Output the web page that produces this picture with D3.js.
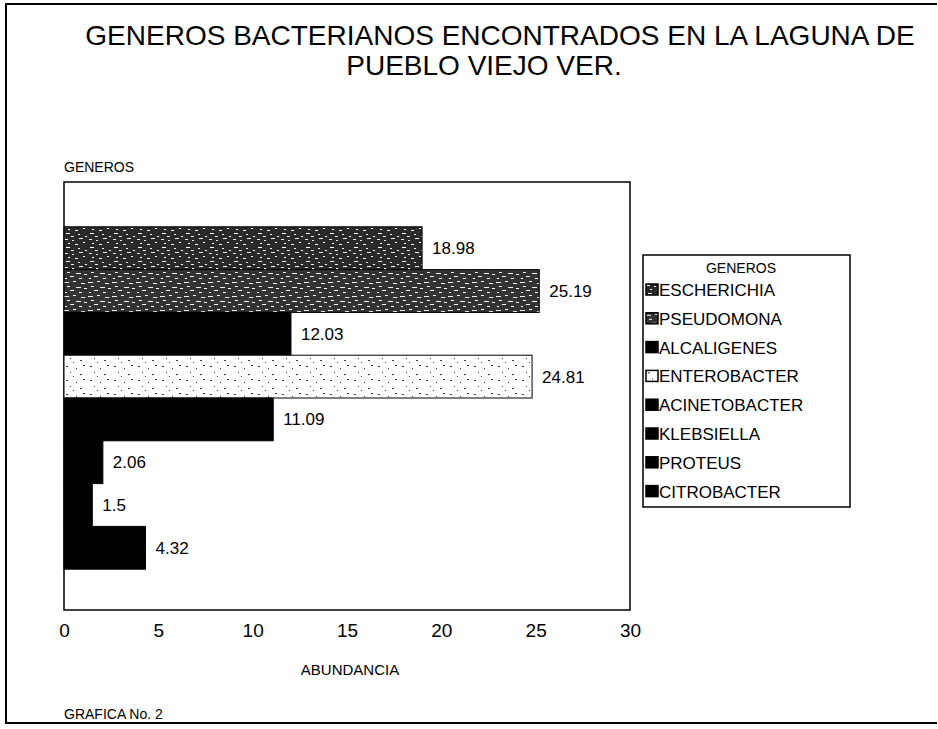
<!DOCTYPE html>
<html>
<head>
<meta charset="utf-8">
<script src="https://cdn.jsdelivr.net/npm/d3@7"></script>
<style>
  body { margin: 0; background: #fff; }
  text { font-family: "Liberation Sans", Arial, sans-serif; fill: #000; }
</style>
</head>
<body>
<div id="chart-area"></div>
<script>
// data
var generos = ["ESCHERICHIA", "PSEUDOMONA", "ALCALIGENES", "ENTEROBACTER",
               "ACINETOBACTER", "KLEBSIELLA", "PROTEUS", "CITROBACTER"];
var abundancia = [18.98, 25.19, 12.03, 24.81, 11.09, 2.06, 1.5, 4.32];
var etiquetas = ["18.98", "25.19", "12.03", "24.81", "11.09", "2.06", "1.5", "4.32"];
var xTicks = [0, 5, 10, 15, 20, 25, 30];
var fills = ["url(#speckDark)", "url(#speckDark2)", "#000", "url(#speckLight)",
             "#000", "#000", "#000", "#000"];

var width = 938, height = 729;
var margin = {top: 182, left: 64, right: 308, bottom: 119};
var plotW = width - margin.left - margin.right;
var plotH = height - margin.top - margin.bottom;

var svg = d3.select("#chart-area").append("svg")
    .attr("width", width)
    .attr("height", height);

// textures for the scanned-looking bars
var defs = svg.append("defs");
function speck(id, bg, fg, pts) {
    var p = defs.append("pattern")
        .attr("id", id)
        .attr("patternUnits", "userSpaceOnUse")
        .attr("width", 24).attr("height", 14);
    p.append("rect").attr("width", 24).attr("height", 14).attr("fill", bg);
    pts.forEach(function(d) {
        p.append("rect").attr("x", d[0]).attr("y", d[1])
            .attr("width", d[2]).attr("height", 1).attr("fill", fg);
    });
}
speck("speckDark", "#2a2a2a", "#fff",
    [[1,1,3],[8,2,2],[15,0,4],[4,5,2],[11,6,3],[19,4,2],[2,9,4],[14,10,2],[21,12,2],[7,12,3]]);
speck("speckDark2", "#333", "#fff",
    [[0,2,5],[9,1,3],[17,3,4],[3,6,3],[12,7,5],[20,8,3],[6,10,4],[15,12,3],[1,12,2]]);
speck("speckLight", "#fff", "#333",
    [[2,2,2],[12,4,1],[19,1,2],[6,8,1],[16,10,2],[9,12,1]]);

// outer frame
svg.append("path")
    .attr("d", "M937,4 H6 V723 H937")
    .attr("fill", "none").attr("stroke", "#000").attr("stroke-width", 2);

// title
svg.append("text").attr("x", 500).attr("y", 45)
    .attr("text-anchor", "middle").attr("font-size", "28px")
    .text("GENEROS BACTERIANOS ENCONTRADOS EN LA LAGUNA DE");
svg.append("text").attr("x", 484).attr("y", 75)
    .attr("text-anchor", "middle").attr("font-size", "28px")
    .text("PUEBLO VIEJO VER.");

var g = svg.append("g")
    .attr("transform", "translate(" + margin.left + "," + margin.top + ")");

var x = d3.scaleLinear().domain([0, 30]).range([0, plotW]);
var y = d3.scaleBand().domain(generos).range([0, plotH])
    .paddingInner(0).paddingOuter(1);

g.append("rect")
    .attr("width", plotW).attr("height", plotH)
    .attr("fill", "none").attr("stroke", "#000").attr("stroke-width", 1.5);

g.selectAll(".bar").data(generos).enter().append("rect")
    .attr("class", "bar")
    .attr("x", 0)
    .attr("y", function(d) { return y(d) + 2; })
    .attr("width", function(d, i) { return x(abundancia[i]); })
    .attr("height", y.bandwidth())
    .attr("fill", function(d, i) { return fills[i]; })
    .attr("stroke", "#000").attr("stroke-width", 1);

g.selectAll(".val").data(generos).enter().append("text")
    .attr("class", "val")
    .attr("x", function(d, i) { return x(abundancia[i]) + 10; })
    .attr("y", function(d) { return y(d) + y.bandwidth() / 2 + 8; })
    .attr("font-size", "17px")
    .text(function(d, i) { return etiquetas[i]; });

// x axis (labels only)
var bottomAxis = d3.axisBottom(x).tickValues(xTicks).tickSize(0).tickPadding(14);
g.append("g")
    .attr("transform", "translate(0," + plotH + ")")
    .call(bottomAxis)
    .call(function(a) { a.select(".domain").remove(); })
    .selectAll("text")
    .attr("font-size", "19px")
    .attr("font-family", "Liberation Sans, Arial, sans-serif")
    .attr("fill", "#000");

g.append("text")
    .attr("x", 0).attr("y", -10)
    .attr("font-size", "14px")
    .text("GENEROS");

svg.append("text")
    .attr("x", 350).attr("y", 675)
    .attr("text-anchor", "middle").attr("font-size", "15px")
    .text("ABUNDANCIA");

svg.append("text")
    .attr("x", 64).attr("y", 719)
    .attr("font-size", "14px")
    .text("GRAFICA No. 2");

// legend
var lg = svg.append("g").attr("transform", "translate(643,255)");
lg.append("rect").attr("width", 207).attr("height", 252)
    .attr("fill", "#fff").attr("stroke", "#000").attr("stroke-width", 1.5);
lg.append("text").attr("x", 98).attr("y", 18)
    .attr("text-anchor", "middle").attr("font-size", "14px")
    .text("GENEROS");
var item = lg.selectAll(".item").data(generos).enter().append("g")
    .attr("class", "item")
    .attr("transform", function(d, i) { return "translate(3," + (29 + i * 28.8) + ")"; });
item.append("rect").attr("width", 12).attr("height", 11)
    .attr("fill", function(d, i) { return fills[i]; })
    .attr("stroke", "#000").attr("stroke-width", 1.5);
item.append("text").attr("x", 13).attr("y", 12)
    .attr("font-size", "17px")
    .text(function(d) { return d; });
</script>
</body>
</html>
